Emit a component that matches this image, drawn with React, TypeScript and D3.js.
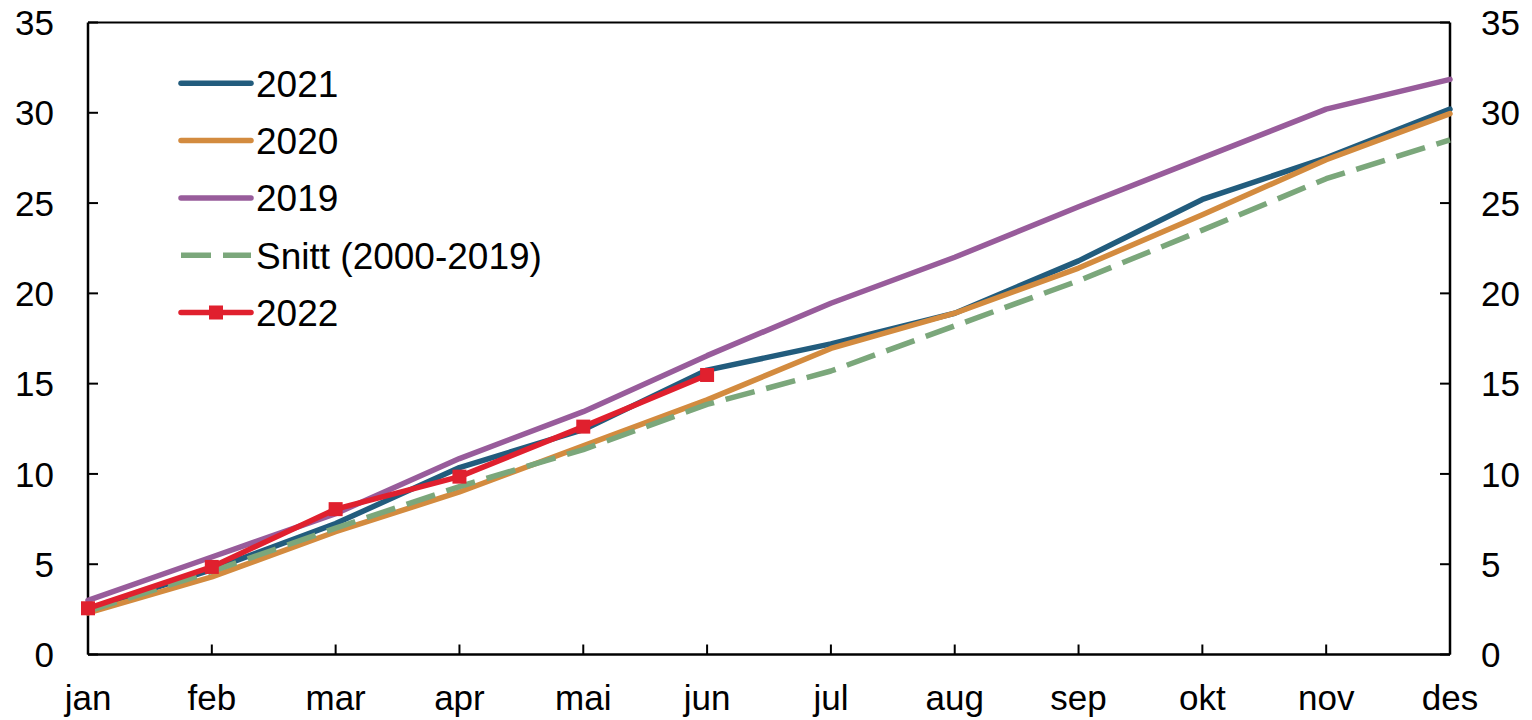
import React from "react";
import * as d3 from "d3";

const months = ["jan", "feb", "mar", "apr", "mai", "jun", "jul", "aug", "sep", "okt", "nov", "des"];
const yTicks = [0, 5, 10, 15, 20, 25, 30, 35];
const s2021 = [2.5, 4.7, 7.25, 10.35, 12.45, 15.75, 17.2, 18.9, 21.8, 25.2, 27.5, 30.2];
const s2020 = [2.3, 4.3, 6.8, 9.0, 11.55, 14.1, 16.95, 18.9, 21.4, 24.35, 27.4, 29.95];
const s2019 = [3.0, 5.4, 7.8, 10.85, 13.45, 16.55, 19.45, 22.0, 24.8, 27.5, 30.2, 31.85];
const snitt = [2.4, 4.6, 7.0, 9.3, 11.35, 13.85, 15.7, 18.2, 20.7, 23.5, 26.35, 28.5];
const s2022 = [2.56, 4.85, 8.05, 9.85, 12.62, 15.48];

const seriesNames = ["2021", "2020", "2019", "Snitt (2000-2019)", "2022"];

const W = 1532;
const H = 720;
const left = 88;
const right = 1450;
const top = 22.5;
const bottom = 654.5;
const FONT = "'Liberation Sans', Arial, sans-serif";
const FS = 35;
const LFS = 37;

export default function App() {
  const x = d3.scalePoint<string>().domain(months).range([left, right]);
  const y = d3.scaleLinear().domain([0, 35]).range([bottom, top]);
  const line = d3
    .line<number>()
    .x((_, i) => x(months[i]) as number)
    .y((d) => y(d));

  const series = [
    { name: seriesNames[0], data: s2021, color: "#225c7d", width: 5.5, dash: undefined as string | undefined },
    { name: seriesNames[1], data: s2020, color: "#d38b3f", width: 5.5, dash: undefined },
    { name: seriesNames[2], data: s2019, color: "#985c9b", width: 5.5, dash: undefined },
    { name: seriesNames[3], data: snitt, color: "#7ba77b", width: 5.5, dash: "30,12" },
    { name: seriesNames[4], data: s2022, color: "#e0202e", width: 5.5, dash: undefined },
  ];

  const legX1 = 181;
  const legX2 = 251;
  const legY0 = 83.3;
  const legStep = 57.3;

  return (
    <svg width={W} height={H} style={{ position: "absolute", left: 0, top: 0, background: "#fff" }}>
      <rect x={0} y={0} width={W} height={H} fill="#fff" />
      <line x1={left} x2={right} y1={top} y2={top} stroke="#000" strokeWidth={2} />
      <line x1={left} x2={right} y1={bottom} y2={bottom} stroke="#000" strokeWidth={2.5} />
      <line x1={left} x2={left} y1={top} y2={bottom} stroke="#000" strokeWidth={2.5} />
      <line x1={right} x2={right} y1={top} y2={bottom} stroke="#000" strokeWidth={2.5} />
      {yTicks.map((t) => (
        <g key={"yt" + t}>
          <line x1={left} x2={left + 10} y1={y(t)} y2={y(t)} stroke="#000" strokeWidth={2} />
          <line x1={right - 10} x2={right} y1={y(t)} y2={y(t)} stroke="#000" strokeWidth={2} />
          <text x={54} y={y(t)} dy="0.36em" textAnchor="end" fontFamily={FONT} fontSize={FS} fill="#000">
            {t}
          </text>
          <text x={1481} y={y(t)} dy="0.36em" textAnchor="start" fontFamily={FONT} fontSize={FS} fill="#000">
            {t}
          </text>
        </g>
      ))}
      {months.map((m) => (
        <g key={"xt" + m}>
          <line x1={x(m)} x2={x(m)} y1={bottom} y2={bottom - 10} stroke="#000" strokeWidth={2} />
          <text x={x(m)} y={710} textAnchor="middle" fontFamily={FONT} fontSize={FS} fill="#000">
            {m}
          </text>
        </g>
      ))}
      {series.map((s) => (
        <path
          key={s.name}
          d={line(s.data) || ""}
          fill="none"
          stroke={s.color}
          strokeWidth={s.width}
          strokeDasharray={s.dash}
          strokeLinejoin="round"
          strokeLinecap={s.dash ? "butt" : "round"}
        />
      ))}
      {s2022.map((v, i) => (
        <rect
          key={"m" + i}
          x={(x(months[i]) as number) - 7}
          y={y(v) - 7}
          width={14}
          height={14}
          fill="#e0202e"
        />
      ))}
      {series.map((s, i) => {
        const ly = legY0 + i * legStep;
        return (
          <g key={"leg" + s.name}>
            <line
              x1={legX1}
              x2={legX2}
              y1={ly}
              y2={ly}
              stroke={s.color}
              strokeWidth={s.width}
              strokeDasharray={s.dash}
              strokeLinecap={s.dash ? "butt" : "round"}
            />
            {i === 4 && <rect x={(legX1 + legX2) / 2 - 7} y={ly - 7} width={14} height={14} fill={s.color} />}
            <text x={256} y={ly} dy="0.36em" fontFamily={FONT} fontSize={LFS} fill="#000">
              {s.name}
            </text>
          </g>
        );
      })}
    </svg>
  );
}
